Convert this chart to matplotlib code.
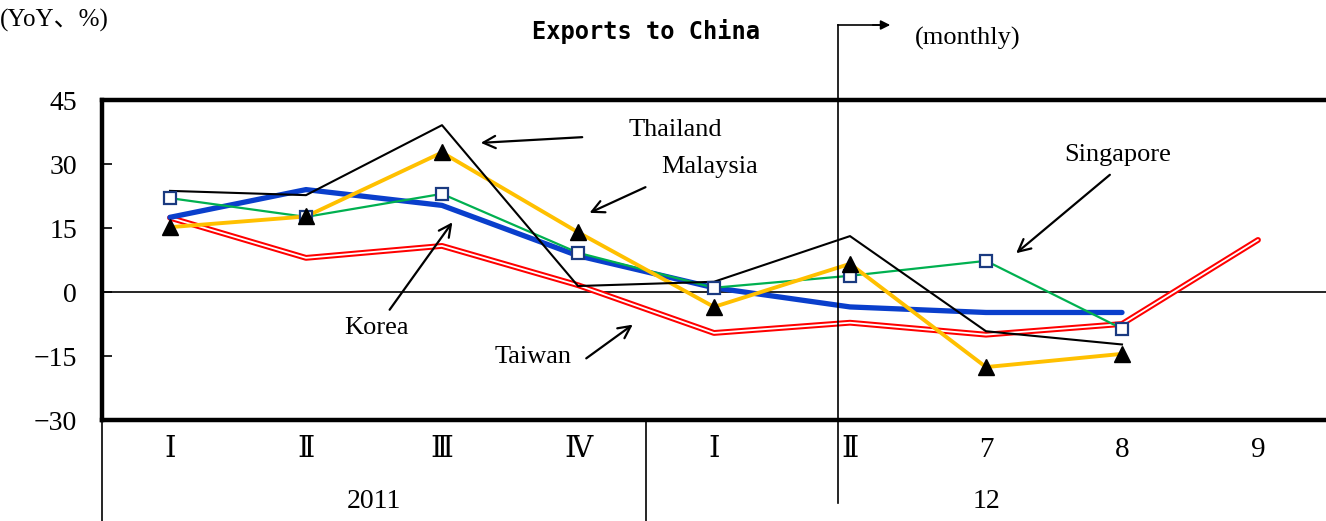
import numpy as np
import matplotlib.pyplot as plt
from matplotlib.lines import Line2D
from matplotlib.transforms import blended_transform_factory

categories = ["Ⅰ", "Ⅱ", "Ⅲ", "Ⅳ", "Ⅰ", "Ⅱ", "7", "8", "9"]
years = ["2011", "12"]
nan = np.nan
korea = [17.5, 24.0, 20.3, 8.5, 1.0, -3.5, -4.8, -4.8, nan]
thailand = [23.7, 22.7, 39.1, 1.4, 2.4, 13.1, -9.2, -12.3, nan]
malaysia = [15.2, 17.7, 32.7, 14.0, -3.5, 6.6, -17.6, -14.5, nan]
singapore = [22.0, 17.6, 23.0, 9.2, 1.0, 3.8, 7.3, -8.6, nan]
taiwan = [17.4, 8.0, 10.8, 1.6, -9.6, -7.2, -10.0, -7.5, 12.2]
yticks = [45, 30, 15, 0, -15, -30]

W, H = 1326, 521
SERIF = ["Liberation Serif", "DejaVu Serif", "Noto Sans CJK JP"]


def px(x, y):
    # pixel position -> figure fraction
    return x / W, 1 - y / H


def to_data(x, y):
    return (x - 170) / 136, (292 - y) / 4.267


fig = plt.figure(figsize=(13.26, 5.21), dpi=100)
ax = fig.add_axes([102 / W, 1 - 420 / H, 1 - 102 / W, 320 / H])
x = np.arange(len(categories))

# Taiwan: double red line
ax.plot(x, taiwan, color="#FF0000", lw=4.2, solid_capstyle="round", zorder=2)
ax.plot(x, taiwan, color="white", lw=1.3, solid_capstyle="round", zorder=2.1)
ax.plot(x, korea, color="#0A3FCC", lw=3.8, solid_capstyle="round", zorder=3)
ax.plot(x, singapore, color="#00B050", lw=1.6, zorder=4)
ax.plot(x, malaysia, color="#FFC000", lw=2.8, zorder=5)
ax.plot(x, thailand, color="black", lw=1.5, zorder=6)
ax.plot(x, singapore, ls="none", marker="s", ms=8, mfc="white",
        mec="#1A3A80", mew=1.6, zorder=7)
ax.plot(x, malaysia, ls="none", marker="^", ms=12, color="black", zorder=7)

ax.axhline(0, color="black", lw=1.2, zorder=1)
ax.set_xlim(-0.5, len(categories) - 0.5)
ax.set_ylim(-30, 45)
ax.set_yticks(yticks)
ax.set_yticklabels([str(v).replace("-", "−") for v in yticks],
                   family=SERIF, fontsize=20)
ax.set_xticks(x)
ax.set_xticklabels(categories, family=SERIF, fontsize=21)
ax.tick_params(axis="y", direction="in", length=7, width=1.2, pad=18)
ax.tick_params(axis="x", length=0, pad=12)

for side in ["top", "bottom", "left"]:
    ax.spines[side].set_linewidth(3.2)
ax.spines["right"].set_visible(False)

# separators below the axis
tr = blended_transform_factory(ax.transData, ax.transAxes)
ax.plot([-0.5, -0.5], [0, -0.32], color="black", lw=1.2, transform=tr, clip_on=False)
ax.plot([3.5, 3.5], [0, -0.32], color="black", lw=1.2, transform=tr, clip_on=False)
ax.text(1.5, -0.256, years[0], transform=tr, ha="center", va="center",
        family=SERIF, fontsize=20)
ax.text(6, -0.256, years[1], transform=tr, ha="center", va="center",
        family=SERIF, fontsize=20)

# monthly marker line and arrow
x0, y0 = px(838, 25)
x1, y1 = px(838, 503)
fig.add_artist(Line2D([x0, x1], [y0, y1], color="black", lw=1.2))
fig.add_artist(Line2D([x0, px(880, 25)[0]], [y0, y0], color="black", lw=1.2))
ax.annotate("", xy=px(893, 25), xytext=px(870, 25), xycoords="figure fraction",
            textcoords="figure fraction",
            arrowprops=dict(arrowstyle="-|>", color="black", lw=1.2,
                            mutation_scale=14))
fig.text(*px(915, 38), "(monthly)", ha="left", va="center", family=SERIF,
         fontsize=19)
fig.text(*px(0, 20), "(YoY、%)", ha="left", va="center", family=SERIF,
         fontsize=18)
fig.text(*px(646, 32), "Exports to China", ha="center", va="center",
         family="DejaVu Sans Mono", fontweight="bold", fontsize=17)

labels = [
    ("Thailand", (675, 130), (585, 137), (478, 143)),
    ("Malaysia", (710, 167), (648, 186), (587, 214)),
    ("Singapore", (1118, 155), (1112, 173), (1014, 255)),
    ("Korea", (376, 328), (388, 312), (454, 220)),
    ("Taiwan", (533, 357), (584, 360), (635, 323)),
]
for name, tpos, a0, a1 in labels:
    ax.text(*to_data(*tpos), name, ha="center", va="center", family=SERIF,
            fontsize=19, zorder=10)
    ax.annotate("", xy=to_data(*a1), xytext=to_data(*a0),
                arrowprops=dict(arrowstyle="->", color="black", lw=1.6,
                                mutation_scale=22), zorder=10)

fig.savefig("out.png", dpi=100)
